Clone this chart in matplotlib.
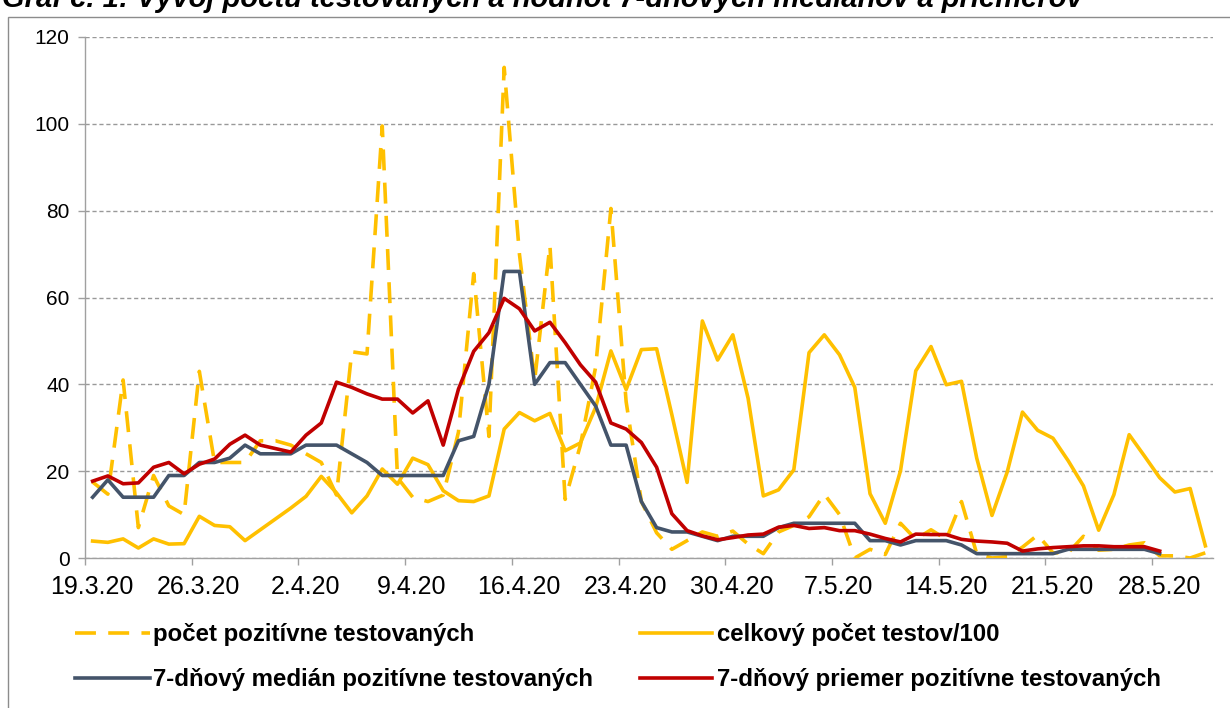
import matplotlib
matplotlib.use("Agg")
import matplotlib.pyplot as plt
import matplotlib.transforms as mtransforms
from matplotlib.patches import Rectangle
import numpy as np

plt.rcParams['font.family'] = ['Liberation Sans', 'DejaVu Sans']

title = "Graf č. 1: Vývoj počtu testovaných a hodnôt 7-dňových mediánov a priemerov"

tick_labels = ["19.3.20", "26.3.20", "2.4.20", "9.4.20", "16.4.20", "23.4.20",
               "30.4.20", "7.5.20", "14.5.20", "21.5.20", "28.5.20"]

# daily values from 19.3.20 to 31.5.20 (74 days)
pozitivne = [17.5, 14.7, 41, 7, 19, 12, 10, 43, 22, 22,
             22, 27, 27, 26, 24, 22, 14.5, 47.5, 47, 99.5,
             18.5, 14, 13, 14.5, 29, 65.5, 28, 113, 70, 41,
             72, 13.5, 26, 44, 80.5, 36, 13, 5.8, 2, 4,
             6, 5, 6.2, 3.2, 1, 6, 7.5, 9.5, 14.7, 10,
             0, 2, 0.8, 8, 4.3, 6.5, 4.3, 13, 1, 0,
             0.3, 2.5, 5.3, 1.2, 1.2, 5, 1.8, 2, 3, 3.5,
             0.5, 0.5, 0, 1.2]

testy_100 = [3.9, 3.6, 4.4, 2.3, 4.4, 3.2, 3.3, 9.6, 7.5, 7.2,
             4.0, 6.5, 9.0, 11.5, 14.2, 18.8, 15, 10.4, 14.3, 20.5,
             17, 23, 21.5, 15.5, 13.2, 13, 14.3, 29.7, 33.5, 31.6,
             33.3, 24.7, 26.5, 34.7, 47.7, 38.8, 48, 48.2, 33, 17.4,
             54.6, 45.6, 51.4, 36.8, 14.3, 15.7, 20.3, 47.3, 51.4, 46.8,
             39.3, 14.8, 8, 20.1, 43.1, 48.7, 39.9, 40.7, 23, 9.8,
             19.8, 33.6, 29.4, 27.6, 22.4, 16.6, 6.4, 14.6, 28.4, 23.5,
             18.5, 15.2, 16, 2.8]

median7 = [14, 18, 14, 14, 14, 19, 19, 22, 22, 23,
           26, 24, 24, 24, 26, 26, 26, 24, 22, 19,
           19, 19, 19, 19, 27, 28, 40, 66, 66, 40,
           45, 45, 40, 35, 26, 26, 13, 7, 6, 6,
           5, 4, 5, 5, 5, 7, 8, 8, 8, 8,
           8, 4, 4, 3, 4, 4, 4, 3, 1, 1,
           1, 1, 1, 1, 2, 2, 2, 2, 2, 2,
           1, None, None, None]

priemer7 = [17.7, 18.9, 17.1, 17.3, 20.9, 22, 19.4, 21.6, 22.8, 26.2,
            28.3, 26, 25.2, 24.4, 28.3, 31.1, 40.5, 39.3, 37.8, 36.6,
            36.6, 33.4, 36.2, 26, 38.9, 47.6, 51.9, 59.8, 57.4, 52.3,
            54.3, 49.6, 44.5, 40.5, 31.1, 29.7, 26.6, 20.9, 10.2, 6.3,
            5.1, 4.2, 4.7, 5.3, 5.5, 7.1, 7.5, 6.8, 7, 6.3,
            6.3, 5.5, 4.5, 3.7, 5.5, 5.4, 5.4, 4.3, 3.9, 3.7,
            3.4, 1.6, 2.1, 2.4, 2.6, 2.8, 2.8, 2.6, 2.6, 2.6,
            1.6, None, None, None]

series_labels = ["počet pozitívne testovaných", "celkový počet testov/100",
                 "7-dňový medián pozitívne testovaných", "7-dňový priemer pozitívne testovaných"]

YELLOW = "#FFC000"
BLUE = "#44546A"
RED = "#C00000"

W, H = 1230, 708
fig = plt.figure(figsize=(W / 100, H / 100), dpi=100)
ax = fig.add_axes([85 / W, 1 - 558 / H, (1213 - 85) / W, (558 - 37) / H])

x = np.arange(len(pozitivne))
def arr(v):
    return np.array([np.nan if a is None else a for a in v], dtype=float)

lw = 2.6
l1, = ax.plot(x, arr(pozitivne), color=YELLOW, lw=lw, dashes=(5.8, 3.4), zorder=3,
              dash_capstyle='butt')
l2, = ax.plot(x, arr(testy_100), color=YELLOW, lw=lw, zorder=4)
l3, = ax.plot(x, arr(median7), color=BLUE, lw=lw, zorder=5)
l4, = ax.plot(x, arr(priemer7), color=RED, lw=lw, zorder=6)

ax.set_xlim(-0.5, len(pozitivne) - 0.5)
ax.set_ylim(0, 120)
ax.set_yticks(np.arange(0, 121, 20))
ax.yaxis.grid(True, color="#999999", linestyle=(0, (3, 2)), linewidth=1)
ax.set_axisbelow(True)
for s in ["top", "right"]:
    ax.spines[s].set_visible(False)
for s in ["left", "bottom"]:
    ax.spines[s].set_color("#a0a0a0")
    ax.spines[s].set_linewidth(1)

tick_pos = [7 * k - 0.5 for k in range(len(tick_labels))]
ax.set_xticks(tick_pos)
ax.set_xticklabels(tick_labels)
ax.tick_params(axis='both', colors="#a0a0a0", length=5, width=1, labelcolor="black")
ax.tick_params(axis='x', pad=7, labelsize=18)
ax.tick_params(axis='y', pad=6, labelsize=15)
offset = mtransforms.ScaledTranslation(7 / 100, 0, fig.dpi_scale_trans)
for lab in ax.get_xticklabels():
    lab.set_transform(lab.get_transform() + offset)

legprops = {'weight': 'bold', 'size': 17.3}
fs_px = 17.3 * 100 / 72
leg1 = fig.legend([l1, l3], [series_labels[0], series_labels[2]],
                  loc='upper left', bbox_to_anchor=(75 / W, 1 - 623 / H),
                  frameon=False, borderpad=0, borderaxespad=0,
                  handlelength=75 / fs_px, handletextpad=3 / fs_px,
                  labelspacing=0.92, prop=legprops)
leg2 = fig.legend([l2, l4], [series_labels[1], series_labels[3]],
                  loc='upper left', bbox_to_anchor=(640 / W, 1 - 623 / H),
                  frameon=False, borderpad=0, borderaxespad=0,
                  handlelength=72 / fs_px, handletextpad=5 / fs_px,
                  labelspacing=0.92, prop=legprops)

fig.text(2 / W, 1 - 7 / H, title, fontsize=21, fontweight='bold', fontstyle='italic',
         ha='left', va='baseline')

fig.patches.append(Rectangle((8 / W, -0.05), 1.2, 1.05 - 17 / H, transform=fig.transFigure,
                             fill=False, edgecolor="#8c8c8c", linewidth=1))

fig.savefig("out.png", dpi=100)
